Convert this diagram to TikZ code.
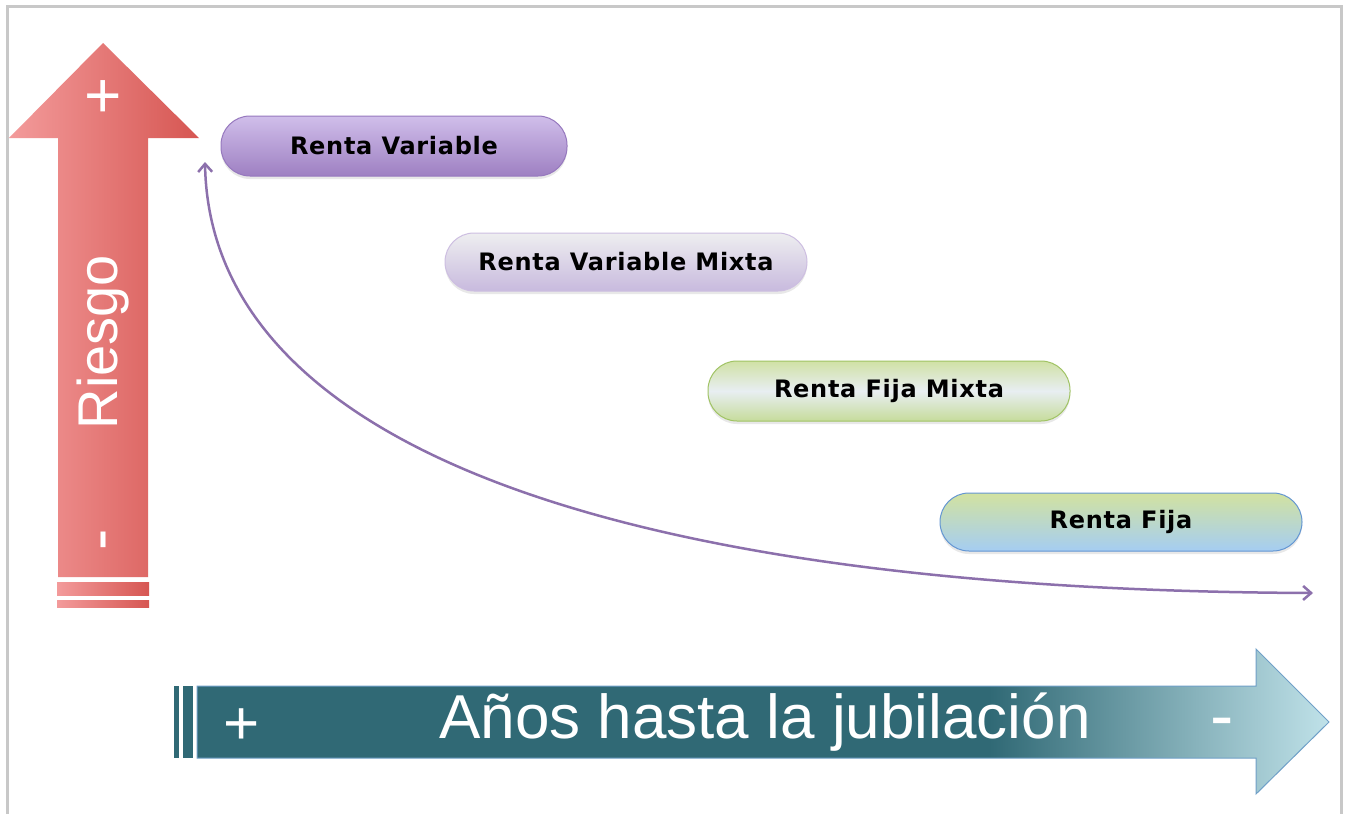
\documentclass[tikz,border=0pt]{standalone}
\usepackage{fontspec}
\setmainfont{Liberation Sans}
\newfontfamily\pillfont[LetterSpace=3]{DejaVu Sans}
\usetikzlibrary{arrows.meta,shadows}
\definecolor{framec}{RGB}{200,200,200}
\definecolor{redL}{RGB}{243,155,155}
\definecolor{redR}{RGB}{214,86,82}
\definecolor{tealD}{RGB}{48,105,117}
\definecolor{tealL}{RGB}{192,226,233}
\definecolor{tealE}{RGB}{112,160,200}
\definecolor{curvec}{RGB}{140,112,172}
\definecolor{p1t}{RGB}{208,190,234}
\definecolor{p1b}{RGB}{158,128,194}
\definecolor{p1d}{RGB}{150,120,190}
\definecolor{p2t}{RGB}{238,238,240}
\definecolor{p2b}{RGB}{200,186,222}
\definecolor{p2d}{RGB}{205,190,225}
\definecolor{p3t}{RGB}{208,225,165}
\definecolor{p3m}{RGB}{232,238,242}
\definecolor{p3b}{RGB}{198,220,155}
\definecolor{p3d}{RGB}{160,195,100}
\definecolor{p4t}{RGB}{210,226,160}
\definecolor{p4b}{RGB}{165,205,242}
\definecolor{p4d}{RGB}{100,150,210}
\pgfdeclarehorizontalshading{tealsh}{100bp}{color(0bp)=(tealD); color(60bp)=(tealD); color(75bp)=(tealL); color(100bp)=(tealL)}
\tikzset{
  pill/.style={rounded corners=29pt, minimum width=362pt, minimum height=59pt, line width=1pt,
    font=\pillfont\bfseries\fontsize{24}{28}\selectfont, text=black, inner sep=0pt,
    drop shadow={opacity=0.18, shadow xshift=0pt, shadow yshift=-3pt}},
  bigtext/.style={text=white, inner sep=0pt, font=\fontsize{#1}{#1}\selectfont},
}
\begin{document}
\begin{tikzpicture}[x=1pt,y=-1pt]
\useasboundingbox (0,0) rectangle (1347,814);
\fill[white] (0,0) rectangle (1347,814);
% frame
\draw[framec, line width=3pt] (7.5,814) -- (7.5,6.5) -- (1341.5,6.5) -- (1341.5,814);

% red up arrow
\shade[left color=redL, right color=redR] (58,577) -- (58,138) -- (9,138) -- (103,43) -- (199,138) -- (148,138) -- (148,577) -- cycle;
\shade[left color=redL, right color=redR] (57,582) rectangle (149,595);
\shade[left color=redL, right color=redR] (57,600) rectangle (149,607);
\node[bigtext=64] (rplus) at (103,99) {+};
\node[bigtext=56, rotate=90] (riesgo) at (103,342) {Riesgo};
\node[bigtext=64, rotate=90] (rminus) at (111,540) {-};

% teal right arrow
\fill[tealD] (174,686) rectangle (179,758);
\fill[tealD] (183,686) rectangle (193,758);
\shade[shading=tealsh, draw=tealE, line width=1pt] (197,686) -- (1256,686) -- (1256,649) -- (1329,722) -- (1256,794) -- (1256,758) -- (197,758) -- cycle;
\node[bigtext=62] (tplus) at (242,727) {+};
\node[bigtext=62] (anos) at (765,722) {Años hasta la jubilación};
\node[bigtext=70] (tminus) at (1222,729) {-};

% pills
\node[pill, draw=p1d, top color=p1t, bottom color=p1b, minimum width=346pt, minimum height=60pt] (rv) at (394,146) {Renta Variable};
\node[pill, draw=p2d, top color=p2t, bottom color=p2b, minimum height=58pt] (rvm) at (626,262) {Renta Variable Mixta};
\node[pill, draw=p3d, top color=p3t, bottom color=p3b, middle color=p3m, minimum height=60pt] (rfm) at (889,391) {Renta Fija Mixta};
\node[pill, draw=p4d, top color=p4t, bottom color=p4b, minimum height=58pt] (rf) at (1121,522) {Renta Fija};

% curve
\coordinate (cs) at (205,162);
\coordinate (ce) at (1313,593);
\draw[curvec, line width=2.5pt, {Straight Barb[length=8pt,width=14pt]}-{Straight Barb[length=8pt,width=14pt]}] (cs) .. controls (210,440) and (600,590) .. (ce);
\end{tikzpicture}
\end{document}
